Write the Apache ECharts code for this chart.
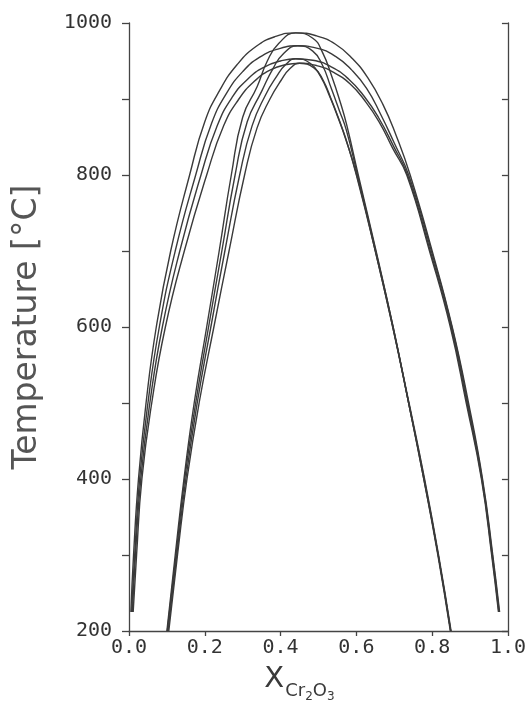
<!DOCTYPE html>
<html>
<head>
<meta charset="utf-8">
<script src="https://cdn.jsdelivr.net/npm/echarts@6/dist/echarts.min.js"></script>
<style>
  html, body { margin: 0; padding: 0; background: #fff; }
  #chart { width: 529px; height: 709px; }
</style>
</head>
<body>
<div id="chart"></div>
<script>
// wide domes (solvus), [X Cr2O3, T in degC], left foot -> crest -> right foot
var solvus1 = [[0.005,225],[0.012,300],[0.025,400],[0.045,500],[0.072,600],[0.110,700],[0.160,800],[0.200,870],[0.240,912],[0.285,945],[0.335,969],[0.385,982],[0.440,987],[0.495,983],[0.545,972],[0.590,953],[0.630,928],[0.670,893],[0.705,852],[0.742,800],[0.800,700],[0.853,600],[0.896,500],[0.933,400],[0.960,300],[0.978,225]];
var solvus2 = [[0.007,225],[0.015,300],[0.028,400],[0.050,500],[0.080,600],[0.122,700],[0.176,800],[0.218,868],[0.258,908],[0.300,936],[0.345,955],[0.395,966],[0.445,970],[0.495,967],[0.545,956],[0.588,938],[0.627,914],[0.664,880],[0.700,842],[0.738,800],[0.798,700],[0.852,600],[0.894,500],[0.932,400],[0.959,300],[0.977,225]];
var solvus3 = [[0.009,225],[0.017,300],[0.031,400],[0.055,500],[0.088,600],[0.134,700],[0.190,800],[0.233,865],[0.272,902],[0.315,927],[0.357,942],[0.400,950],[0.440,953],[0.485,951],[0.535,942],[0.580,926],[0.620,904],[0.658,876],[0.698,838],[0.735,800],[0.795,700],[0.850,600],[0.892,500],[0.931,400],[0.958,300],[0.976,225]];
var solvus4 = [[0.011,225],[0.020,300],[0.034,400],[0.060,500],[0.096,600],[0.146,700],[0.205,800],[0.250,865],[0.290,900],[0.330,923],[0.372,938],[0.412,945],[0.450,947],[0.495,944],[0.540,935],[0.583,920],[0.622,898],[0.660,870],[0.696,835],[0.733,800],[0.793,700],[0.848,600],[0.890,500],[0.930,400],[0.957,300],[0.975,225]];

// narrow domes (spinodal)
var spinodal1 = [[0.100,200],[0.122,300],[0.145,400],[0.172,500],[0.205,600],[0.238,700],[0.270,800],[0.300,876],[0.338,916],[0.365,950],[0.395,973],[0.440,987],[0.485,980],[0.510,962],[0.535,930],[0.558,895],[0.575,865],[0.605,800],[0.652,700],[0.697,600],[0.738,500],[0.778,400],[0.815,300],[0.848,200]];
var spinodal2 = [[0.101,200],[0.124,300],[0.147,400],[0.176,500],[0.210,600],[0.245,700],[0.280,800],[0.312,870],[0.350,910],[0.380,940],[0.408,960],[0.445,970],[0.485,963],[0.510,945],[0.533,915],[0.555,885],[0.573,860],[0.603,800],[0.651,700],[0.697,600],[0.738,500],[0.778,400],[0.816,300],[0.849,200]];
var spinodal3 = [[0.103,200],[0.126,300],[0.150,400],[0.180,500],[0.216,600],[0.253,700],[0.292,800],[0.325,865],[0.360,905],[0.390,930],[0.413,945],[0.440,953],[0.478,947],[0.505,930],[0.530,903],[0.552,875],[0.570,850],[0.601,800],[0.650,700],[0.696,600],[0.738,500],[0.779,400],[0.816,300],[0.849,200]];
var spinodal4 = [[0.105,200],[0.128,300],[0.153,400],[0.185,500],[0.224,600],[0.264,700],[0.305,800],[0.338,862],[0.372,900],[0.402,925],[0.425,940],[0.450,947],[0.488,941],[0.512,925],[0.535,898],[0.555,872],[0.572,848],[0.600,800],[0.650,700],[0.696,600],[0.739,500],[0.780,400],[0.817,300],[0.850,200]];

var curves = [solvus1, solvus2, solvus3, solvus4, spinodal1, spinodal2, spinodal3, spinodal4];

var axisColor = '#444';
var monoFont = 'DejaVu Sans Mono';

var myChart = echarts.init(document.getElementById('chart'));

var series = [];
for (var i = 0; i < curves.length; i++) {
    series.push({
        type: 'line',
        data: curves[i],
        showSymbol: false,
        smooth: 0.5,
        silent: true,
        lineStyle: { color: '#3a3a3a', width: 1.4 }
    });
}

var option = {
    animation: false,
    backgroundColor: '#fff',
    grid: { left: 129, right: 21, top: 23, bottom: 78 },
    xAxis: {
        type: 'value',
        min: 0,
        max: 1,
        interval: 0.2,
        splitLine: { show: false },
        axisLine: { lineStyle: { color: axisColor, width: 1.3 } },
        axisTick: { inside: false, length: 5, lineStyle: { color: axisColor, width: 1.3 } },
        axisLabel: {
            color: '#333', fontFamily: monoFont, fontSize: 20, margin: 7,
            formatter: function (v) { return v.toFixed(1); }
        },
        name: '{x|X}{s|Cr}{n|2}{s|O}{n|3}',
        nameLocation: 'middle',
        nameGap: 34,
        nameTextStyle: {
            padding: [0, 38, 0, 0],
            rich: {
                x: { fontFamily: 'DejaVu Sans', fontSize: 29, color: '#3a3a3a', verticalAlign: 'bottom', padding: [0, 1, 9, 0] },
                s: { fontFamily: 'DejaVu Sans', fontSize: 18, color: '#3a3a3a', verticalAlign: 'bottom', padding: [0, 0, 3, 0] },
                n: { fontFamily: 'DejaVu Sans', fontSize: 12, color: '#3a3a3a', verticalAlign: 'bottom', padding: [0, 0, 0, 0] }
            }
        }
    },
    yAxis: [
        {
            type: 'value',
            min: 200,
            max: 1000,
            interval: 100,
            position: 'left',
            splitLine: { show: false },
            axisLine: { show: true, lineStyle: { color: axisColor, width: 1.3 } },
            axisTick: { show: true, inside: false, length: 7, lineStyle: { color: axisColor, width: 1.3 } },
            axisLabel: {
                color: '#333', fontFamily: monoFont, fontSize: 20, margin: 17,
                formatter: function (v) { return v % 200 === 0 ? String(v) : ''; }
            },
            name: 'Temperature [°C]',
            nameLocation: 'middle',
            nameGap: 85,
            nameTextStyle: { fontFamily: 'DejaVu Sans', fontSize: 33, color: '#555' }
        },
        {
            type: 'value',
            min: 200,
            max: 1000,
            interval: 100,
            position: 'right',
            splitLine: { show: false },
            axisLine: { show: true, lineStyle: { color: axisColor, width: 1.3 } },
            axisTick: { show: true, inside: true, length: 6, lineStyle: { color: axisColor, width: 1.3 } },
            axisLabel: { show: false }
        }
    ],
    series: series
};
myChart.setOption(option);
</script>
</body>
</html>
